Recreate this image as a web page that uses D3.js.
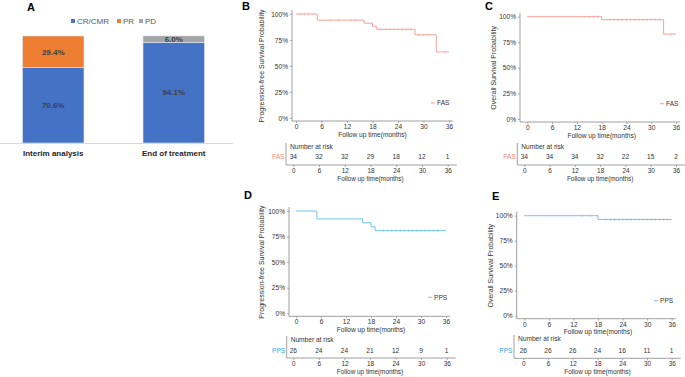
<!DOCTYPE html>
<html><head><meta charset="utf-8">
<script src="https://cdn.jsdelivr.net/npm/d3@7"></script>
<style>body{margin:0;background:#fff}text{font-family:"Liberation Sans",Arial,sans-serif}</style>
</head><body><div id="main"></div><script>
const width=685,height=377;

/* Panel A data */
const groups = ["Interim analysis","End of treatment"];
const responses = ["CR/CMR","PR","PD"];
const crValues = [70.6, 94.1];
const prValues = [29.4, 0];
const pdValues = [0, 6.0];
const respColors = ["#4472C4","#ED7D31","#A5A5A5"];

/* Kaplan-Meier data (time in months, survival probability) */
const months = [0,6,12,18,24,30,36];
const pfsFasTime = [0,5,16,18,19,28,33,36];
const pfsFasSurv = [1,0.941,0.912,0.882,0.853,0.80,0.635,0.635];
const pfsFasCens = [1,2,3,4,8,10,13,14,20,21,22,23,24,25,26,27,29,30,31,35];
const osFasTime = [0,18,33,36];
const osFasSurv = [1,0.971,0.83,0.83];
const osFasCens = [14,15,16,17,20,21,22,23,24,25,26,27,28,29,30,31,32,35];
const pfsPpsTime = [0,5,16,18,19,36];
const pfsPpsSurv = [1,0.923,0.885,0.846,0.808,0.808];
const pfsPpsCens = [21,22,23,24,25,26,27,28,29,30,31,32,33,34];
const osPpsTime = [0,18,36];
const osPpsSurv = [1,0.962,0.962];
const osPpsCens = [14,16,20,21,22,23,24,25,26,27,28,29,30,31,32,33,34,35];

/* Number at risk */
const riskPfsFas = [34,32,32,29,18,12,1];
const riskOsFas = [34,34,34,32,22,15,2];
const riskPfsPps = [26,24,24,21,12,9,1];
const riskOsPps = [26,26,26,24,16,11,1];

const fasLine = "#f5a09a", fasText = "#f0857d";
const ppsLine = "#74c4ee", ppsText = "#3aa3de";
const fs = 6.6, fsr = 6.4;

const svg = d3.select("#main").append('svg').attr("width",width).attr("height",height)
  .style('background','#fff');

/* ---------- Panel A: stacked bars ---------- */
const barData = groups.map((g,i)=>({group:g,"CR/CMR":crValues[i],"PR":prValues[i],"PD":pdValues[i]}));
const stack = d3.stack().keys(responses)(barData);
const xb = d3.scaleBand().domain(groups).range([-7,234]).paddingInner(0.49).paddingOuter(0.245);
const yb = d3.scaleLinear().domain([0,100]).range([143,36]);
const color = d3.scaleOrdinal().domain(responses).range(respColors);

svg.append('text').attr('x',27).attr('y',11).text('A')
  .style('font-size','11px').style('font-weight','bold');

const layers = svg.append('g').selectAll('g').data(stack).enter().append('g')
  .attr('fill',d=>color(d.key));
layers.selectAll('rect').data(d=>d.filter(e=>e[1]-e[0]>0)).enter().append('rect')
  .attr('x',d=>xb(d.data.group))
  .attr('width',xb.bandwidth())
  .attr('y',d=>yb(d[1]))
  .attr('height',d=>yb(d[0])-yb(d[1]))
  .attr('stroke','#dfe6f3').attr('stroke-width',0.6);
layers.selectAll('text').data(d=>d.filter(e=>e[1]-e[0]>0)).enter().append('text')
  .attr('x',d=>xb(d.data.group)+xb.bandwidth()/2)
  .attr('y',d=>(yb(d[0])+yb(d[1]))/2)
  .attr('dy','0.35em').attr('text-anchor','middle')
  .text(d=>d3.format('.1f')(d[1]-d[0])+'%')
  .style('font-size','8px').style('font-weight','bold').style('fill','#404040');

svg.append('line').attr('x1',0).attr('x2',233).attr('y1',143.5).attr('y2',143.5)
  .attr('stroke','#d9d9d9').attr('stroke-width',1);
svg.append('g').selectAll('text').data(groups).enter().append('text')
  .attr('x',d=>xb(d)+xb.bandwidth()/2).attr('y',156)
  .attr('text-anchor','middle').text(d=>d)
  .style('font-size','8px').style('font-weight','bold').style('fill','#262626');

// legend
const legX = [71,117,139];
const leg = svg.append('g').selectAll('g').data(responses).enter().append('g')
  .attr('transform',(d,i)=>`translate(${legX[i]},21)`);
leg.append('rect').attr('x',0).attr('y',-2).attr('width',4).attr('height',4).attr('fill',d=>color(d));
leg.append('text').attr('x',6).attr('y',0).attr('dy','0.35em').text(d=>d)
  .style('font-size','8px').style('fill','#595959');

/* ---------- Kaplan-Meier panels ---------- */
function styleAxis(sel,size){
  sel.select('.domain').remove();
  sel.selectAll('line').attr('stroke','#777').attr('stroke-width',0.6);
  sel.selectAll('text').style('font-size',(size||fs)+'px').style('fill','#333')
    .style('font-family','"Liberation Sans",Arial,sans-serif');
}

function km(c){
  const g = svg.append('g');
  const x = d3.scaleLinear().domain([0,36]).range([c.x0,c.x1]);
  const y = d3.scaleLinear().domain([0,1]).range([c.yb,c.yt]);
  const ax = c.ax, ay = c.yb+3;

  g.append('text').attr('x',c.lx).attr('y',c.ly).text(c.label)
    .style('font-size','11px').style('font-weight','bold');

  g.append('g').attr('transform',`translate(${ax},0)`)
    .call(d3.axisLeft(y).tickValues([0,.25,.5,.75,1]).tickFormat(d3.format('.0%')).tickSize(2).tickPadding(2))
    .call(styleAxis);
  g.append('g').attr('transform',`translate(0,${ay})`)
    .call(d3.axisBottom(x).tickValues(months).tickSize(2).tickPadding(1.5))
    .call(styleAxis);
  g.append('path').attr('d',`M${ax},${c.yt-4}V${ay}H${c.x1+4}`)
    .attr('fill','none').attr('stroke','#888').attr('stroke-width',0.8);

  g.append('text').attr('x',(c.x0+c.x1)/2).attr('y',ay+15.5)
    .attr('text-anchor','middle').text('Follow up time(months)')
    .style('font-size',fs+'px').style('fill','#333');
  g.append('text').attr('transform',`translate(${c.tx},${(c.yt+c.yb)/2}) rotate(-90)`)
    .attr('text-anchor','middle').text(c.ytitle)
    .style('font-size','7px').style('fill','#333');

  const pts = c.time.map((t,i)=>[t,c.surv[i]]);
  const line = d3.line().x(d=>x(d[0])).y(d=>y(d[1])).curve(d3.curveStepAfter);
  g.append('path').attr('d',line(pts)).attr('fill','none')
    .attr('stroke',c.color).attr('stroke-width',1);

  const survAt = t => { let s=1; c.time.forEach((tt,i)=>{ if(tt<=t) s=c.surv[i]; }); return s; };
  g.selectAll('.cens').data(c.cens).enter().append('line')
    .attr('x1',d=>x(d)).attr('x2',d=>x(d))
    .attr('y1',d=>y(survAt(d))-1.3).attr('y2',d=>y(survAt(d))+1.3)
    .attr('stroke',c.color).attr('stroke-width',0.5);

  // legend
  g.append('line').attr('x1',c.legx).attr('x2',c.legx+4).attr('y1',c.legy).attr('y2',c.legy)
    .attr('stroke',c.color).attr('stroke-width',1);
  g.append('text').attr('x',c.legx+6).attr('y',c.legy).attr('dy','0.35em').text(c.name)
    .style('font-size',fs+'px').style('fill','#333');

  // risk table
  const r = c.risk;
  const xr = d3.scaleLinear().domain([0,36]).range([r.x0,r.x1]);
  g.append('text').attr('x',r.vx+4).attr('y',r.hy).attr('dy','0.35em').text('Number at risk')
    .style('font-size',fs+'px').style('fill','#333');
  g.append('text').attr('x',r.vx-1.5).attr('y',r.ny).attr('dy','0.35em')
    .attr('text-anchor','end').text(c.name)
    .style('font-size',fs+'px').style('fill',c.text);
  g.selectAll('.nr').data(c.atRisk).enter().append('text')
    .attr('x',(d,i)=>xr(months[i])).attr('y',r.ny).attr('dy','0.35em')
    .attr('text-anchor','middle').text(d=>d)
    .style('font-size',fs+'px').style('fill','#333');
  g.append('g').attr('transform',`translate(0,${r.ly})`)
    .call(d3.axisBottom(xr).tickValues(months).tickSize(2).tickPadding(1))
    .call(s=>styleAxis(s,fsr));
  g.append('path').attr('d',`M${r.vx},${r.hy-4}V${r.ly}H${r.x1+9}`)
    .attr('fill','none').attr('stroke','#888').attr('stroke-width',0.8);
  g.append('text').attr('x',(r.x0+r.x1)/2).attr('y',r.ly+16)
    .attr('text-anchor','middle').text('Follow up time(months)')
    .style('font-size',fsr+'px').style('fill','#333');
}

km({label:'B',lx:242,ly:10,x0:296,x1:449,yt:14,yb:118,ax:292,tx:264,
  ytitle:'Progression-free Survival Probability',
  time:pfsFasTime,surv:pfsFasSurv,cens:pfsFasCens,color:fasLine,text:fasText,name:'FAS',
  legx:431,legy:103,atRisk:riskPfsFas,
  risk:{x0:293.3,x1:447.7,vx:286,hy:147,ny:157,ly:165}});

km({label:'C',lx:485,ly:10,x0:527.3,x1:676,yt:16.7,yb:119,ax:520,tx:496,
  ytitle:'Overall Survival Probability',
  time:osFasTime,surv:osFasSurv,cens:osFasCens,color:fasLine,text:fasText,name:'FAS',
  legx:660,legy:103.7,atRisk:riskOsFas,
  risk:{x0:524.3,x1:676,vx:517.3,hy:147,ny:157,ly:165}});

km({label:'D',lx:244,ly:199,x0:296,x1:446,yt:211,yb:313.3,ax:289,tx:264,
  ytitle:'Progression-free Survival Probability',
  time:pfsPpsTime,surv:pfsPpsSurv,cens:pfsPpsCens,color:ppsLine,text:ppsText,name:'PPS',
  legx:428,legy:297.3,atRisk:riskPfsPps,
  risk:{x0:293.3,x1:446.7,vx:286.7,hy:340,ny:351,ly:358}});

km({label:'E',lx:492,ly:200,x0:524.3,x1:671.7,yt:215.7,yb:315.7,ax:516.7,tx:493.3,
  ytitle:'Overall Survival Probability',
  time:osPpsTime,surv:osPpsSurv,cens:osPpsCens,color:ppsLine,text:ppsText,name:'PPS',
  legx:654,legy:300.7,atRisk:riskOsPps,
  risk:{x0:523.3,x1:671.7,vx:514,hy:339,ny:351,ly:358.3}});
</script></body></html>
